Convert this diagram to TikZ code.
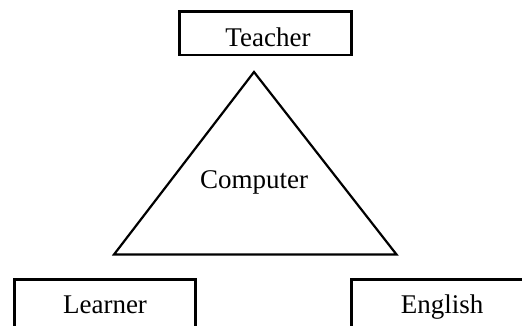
\documentclass[tikz,border=0pt]{standalone}
\usepackage{fontspec}
\setmainfont{Liberation Serif}
\begin{document}
\begin{tikzpicture}[
    x=1pt, y=-1pt,
    every node/.style={font=\fontsize{27}{31}\selectfont},
    box/.style={draw, line width=2.8pt, inner sep=0pt, anchor=north,
        minimum width=181.4}
]
\useasboundingbox (0,0) rectangle (522,326);
\clip (0,0) rectangle (522,326);
% top box
\node[box, minimum width=172.4, text height=34.7, text depth=8.7] (teacher) at (265.5,10.3) {\hspace{5pt}Teacher};
% the triangle
\coordinate (apex) at (254,72);
\coordinate (baseL) at (114,254.5);
\coordinate (baseR) at (396.5,254.5);
\draw[line width=2.2pt] (apex) -- (baseL) -- (baseR) -- cycle;
\node[anchor=base] (computer) at (254,188) {Computer};
% bottom boxes
\node[box, text height=33.7, text depth=40] (learner) at (105,278.3) {Learner};
\node[box, text height=33.7, text depth=40] (english) at (442,278.3) {English};
\end{tikzpicture}
\end{document}
